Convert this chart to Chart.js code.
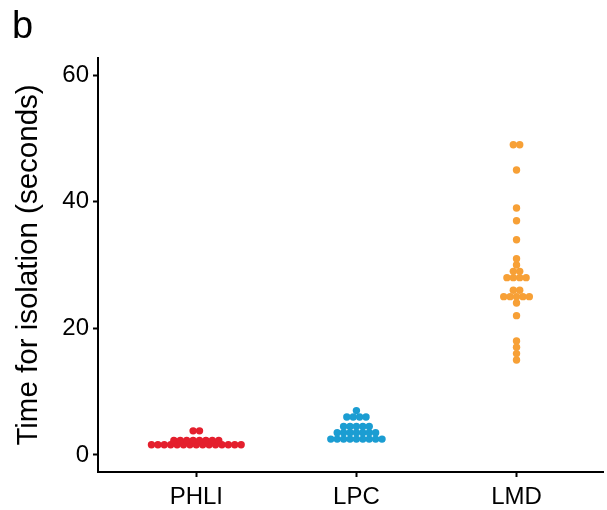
<!DOCTYPE html>
<html>
<head>
<meta charset="utf-8">
<script src="https://cdn.jsdelivr.net/npm/chart.js@4"></script>
<style>
  body { margin: 0; background: #fff; }
  #wrap { width: 607px; height: 510px; }
</style>
</head>
<body>
<div id="wrap"><canvas id="chart-canvas"></canvas></div>
<script>
// groups on the x axis
const categories = ['PHLI', 'LPC', 'LMD'];

// time for isolation, seconds
const phliTimes = [1.6, 1.6, 1.6, 1.6, 1.6, 1.6, 1.6, 1.6, 1.6, 1.6, 1.6, 1.6, 1.6, 1.6, 1.6,
                   2.3, 2.3, 2.3, 2.3, 2.3, 2.3, 2.3, 2.3,
                   3.8, 3.8];
const lpcTimes = [2.5, 2.5, 2.5, 2.5, 2.5, 2.5, 2.5, 2.5, 2.5,
                  3.5, 3.5, 3.5, 3.5, 3.5, 3.5, 3.5,
                  4.5, 4.5, 4.5, 4.5, 4.5,
                  6, 6, 6, 6,
                  7];
const lmdTimes = [15, 16, 17, 18, 22, 24, 25, 25, 25, 25, 25, 26, 26,
                  28, 28, 28, 28, 29, 29, 30, 31, 34, 37, 39, 45, 49, 49];

const yTicks = [0, 20, 40, 60];
const groupColors = ['#E41F2D', '#1B9DD2', '#F7A036'];

const FONT = "'Liberation Sans', Arial, sans-serif";
const DOT_STEP = 0.04; // horizontal gap between dots in a row, in category units

// simple centred beeswarm: equal values share a row, spread around the group centre
function swarm(values, center) {
  const counts = {};
  values.forEach(v => { counts[v] = (counts[v] || 0) + 1; });
  const seen = {};
  return values.map(v => {
    seen[v] = (seen[v] === undefined) ? 0 : seen[v] + 1;
    return { x: center + (seen[v] - (counts[v] - 1) / 2) * DOT_STEP, y: v };
  });
}

const allTimes = [phliTimes, lpcTimes, lmdTimes];

const panelLabel = {
  id: 'panelLabel',
  afterDraw(chart) {
    const ctx = chart.ctx;
    ctx.save();
    ctx.fillStyle = '#000';
    ctx.font = '38px ' + FONT;
    ctx.textBaseline = 'alphabetic';
    ctx.fillText('b', 12, 38);
    ctx.restore();
  }
};

new Chart(document.getElementById('chart-canvas'), {
  type: 'scatter',
  data: {
    datasets: categories.map((name, i) => ({
      label: name,
      data: swarm(allTimes[i], i),
      backgroundColor: groupColors[i],
      borderWidth: 0,
      pointRadius: 3.7,
      pointHoverRadius: 3.7,
    })),
  },
  options: {
    responsive: true,
    maintainAspectRatio: false,
    animation: false,
    layout: { padding: { top: 58, left: 6, right: 0, bottom: 0 } },
    plugins: {
      legend: { display: false },
      tooltip: { enabled: false },
    },
    scales: {
      x: {
        type: 'linear',
        min: -0.614,
        max: 2.542,
        afterBuildTicks: (scale) => { scale.ticks = categories.map((c, i) => ({ value: i })); },
        afterFit: (scale) => { scale.height = 38; },
        ticks: {
          callback: (v) => categories[v],
          color: '#000',
          font: { family: FONT, size: 24 },
          padding: 6,
          maxRotation: 0,
        },
        grid: { drawOnChartArea: false, tickLength: 5, tickColor: '#000', tickWidth: 2 },
        border: { display: true, color: '#000', width: 2 },
      },
      y: {
        min: -2.7,
        max: 62.7,
        afterBuildTicks: (scale) => { scale.ticks = yTicks.map(v => ({ value: v })); },
        afterFit: (scale) => { scale.width = 92; },
        ticks: {
          color: '#000',
          font: { family: FONT, size: 24 },
          padding: 4,
        },
        grid: { drawOnChartArea: false, tickLength: 5, tickColor: '#000', tickWidth: 2 },
        border: { display: true, color: '#000', width: 2 },
        title: {
          display: true,
          text: 'Time for isolation (seconds)',
          color: '#000',
          font: { family: FONT, size: 29.5 },
          padding: { top: 5, bottom: 0 },
        },
      },
    },
  },
  plugins: [panelLabel],
});
</script>
</body>
</html>
